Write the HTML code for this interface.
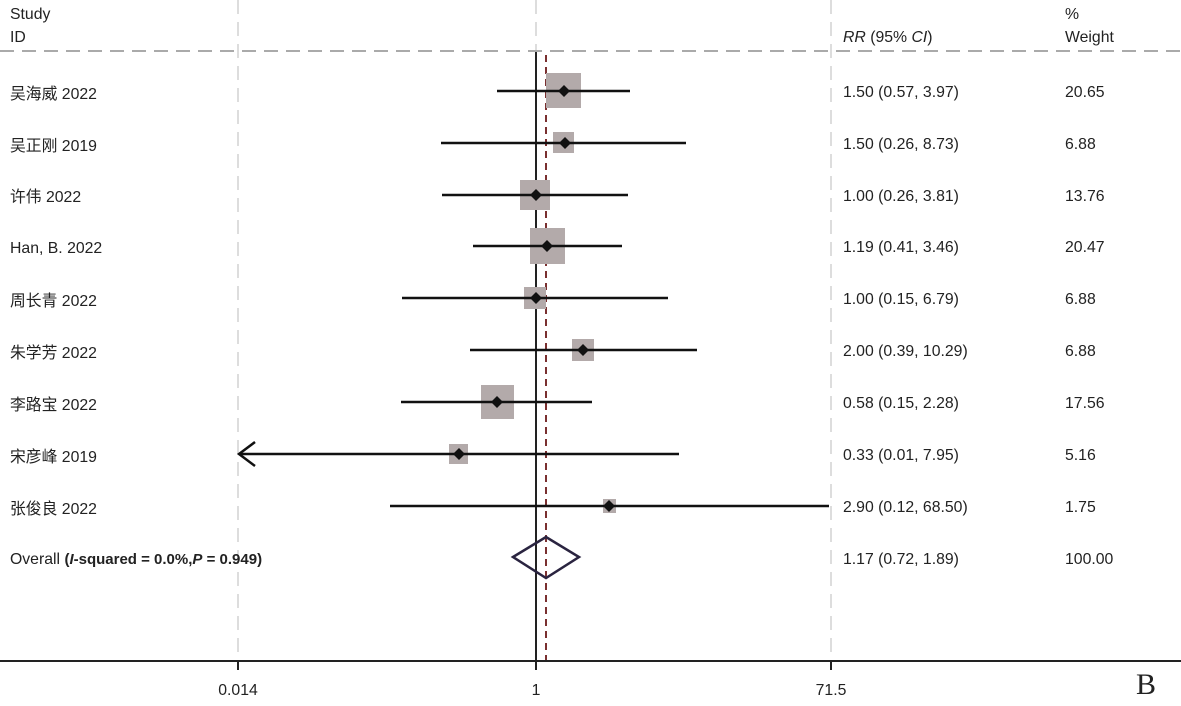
<!DOCTYPE html>
<html><head><meta charset="utf-8"><style>
body{margin:0;background:#fff}
svg text{font-family:"Liberation Sans","Noto Sans CJK SC",sans-serif;font-size:15.8px;fill:#222}
</style></head><body>
<svg width="1181" height="701" xmlns="http://www.w3.org/2000/svg">
<g stroke="#ddd" stroke-width="2" stroke-dasharray="14,8">
<line x1="238" y1="0" x2="238" y2="661"/>
<line x1="536" y1="0" x2="536" y2="52"/>
<line x1="831" y1="0" x2="831" y2="661"/>
</g>
<line x1="0" y1="51" x2="1181" y2="51" stroke="#aaa" stroke-width="2" stroke-dasharray="14,8"/>
<text x="10" y="19">Study</text><text x="10" y="42">ID</text>
<text x="843" y="42"><tspan font-style="italic">RR</tspan> (95% <tspan font-style="italic">CI</tspan>)</text>
<text x="1065" y="19">%</text><text x="1065" y="42">Weight</text>
<line x1="536" y1="52" x2="536" y2="670" stroke="#222" stroke-width="2"/>
<line x1="546" y1="55" x2="546" y2="661" stroke="#7a3030" stroke-width="2" stroke-dasharray="7,5"/>
<line x1="0" y1="661" x2="1181" y2="661" stroke="#222" stroke-width="2"/>
<line x1="238" y1="661" x2="238" y2="670" stroke="#222" stroke-width="2"/>
<line x1="831" y1="661" x2="831" y2="670" stroke="#222" stroke-width="2"/>
<text x="238" y="695" text-anchor="middle">0.014</text>
<text x="536" y="695" text-anchor="middle">1</text>
<text x="831" y="695" text-anchor="middle">71.5</text>
<text x="1136" y="694" style="font-family:'Liberation Serif',serif;font-size:30px">B</text>
<g fill="#b3aaaa">
<rect x="546" y="73" width="35" height="35"/>
<rect x="553" y="132" width="21" height="21"/>
<rect x="520" y="180" width="30" height="30"/>
<rect x="530" y="228" width="35" height="36"/>
<rect x="524" y="287" width="22" height="22"/>
<rect x="572" y="339" width="22" height="22"/>
<rect x="481" y="385" width="33" height="34"/>
<rect x="449" y="444" width="19" height="20"/>
<rect x="603" y="499" width="13" height="14"/>
</g>
<g stroke="#111" stroke-width="2.5">
<line x1="497" y1="91" x2="630" y2="91"/>
<line x1="441" y1="143" x2="686" y2="143"/>
<line x1="442" y1="195" x2="628" y2="195"/>
<line x1="473" y1="246" x2="622" y2="246"/>
<line x1="402" y1="298" x2="668" y2="298"/>
<line x1="470" y1="350" x2="697" y2="350"/>
<line x1="401" y1="402" x2="592" y2="402"/>
<line x1="240" y1="454" x2="679" y2="454"/>
<polyline points="255,442 239,454 255,466" fill="none"/>
<line x1="390" y1="506" x2="829" y2="506"/>
</g>
<g fill="#111">
<polygon points="564,85 570,91 564,97 558,91"/>
<polygon points="565,137 571,143 565,149 559,143"/>
<polygon points="536,189 542,195 536,201 530,195"/>
<polygon points="547,240 553,246 547,252 541,246"/>
<polygon points="536,292 542,298 536,304 530,298"/>
<polygon points="583,344 589,350 583,356 577,350"/>
<polygon points="497,396 503,402 497,408 491,402"/>
<polygon points="459,448 465,454 459,460 453,454"/>
<polygon points="609,500 615,506 609,512 603,506"/>
</g>
<polygon points="513,557 546,537 579,557 546,578" fill="none" stroke="#2a2440" stroke-width="2.5"/>
<g>
<text x="10" y="99">吴海威 2022</text><text x="843" y="97">1.50 (0.57, 3.97)</text><text x="1065" y="97">20.65</text>
<text x="10" y="151">吴正刚 2019</text><text x="843" y="149">1.50 (0.26, 8.73)</text><text x="1065" y="149">6.88</text>
<text x="10" y="202">许伟 2022</text><text x="843" y="201">1.00 (0.26, 3.81)</text><text x="1065" y="201">13.76</text>
<text x="10" y="253">Han, B. 2022</text><text x="843" y="252">1.19 (0.41, 3.46)</text><text x="1065" y="252">20.47</text>
<text x="10" y="306">周长青 2022</text><text x="843" y="304">1.00 (0.15, 6.79)</text><text x="1065" y="304">6.88</text>
<text x="10" y="358">朱学芳 2022</text><text x="843" y="356">2.00 (0.39, 10.29)</text><text x="1065" y="356">6.88</text>
<text x="10" y="410">李路宝 2022</text><text x="843" y="408">0.58 (0.15, 2.28)</text><text x="1065" y="408">17.56</text>
<text x="10" y="462">宋彦峰 2019</text><text x="843" y="460">0.33 (0.01, 7.95)</text><text x="1065" y="460">5.16</text>
<text x="10" y="514">张俊良 2022</text><text x="843" y="512">2.90 (0.12, 68.50)</text><text x="1065" y="512">1.75</text>
<text x="10" y="564">Overall  <tspan font-weight="bold" font-size="15">(<tspan font-style="italic">I</tspan>-squared = 0.0%,<tspan font-style="italic">P</tspan> = 0.949)</tspan></text>
<text x="843" y="564">1.17 (0.72, 1.89)</text><text x="1065" y="564">100.00</text>
</g>
</svg>
</body></html>
